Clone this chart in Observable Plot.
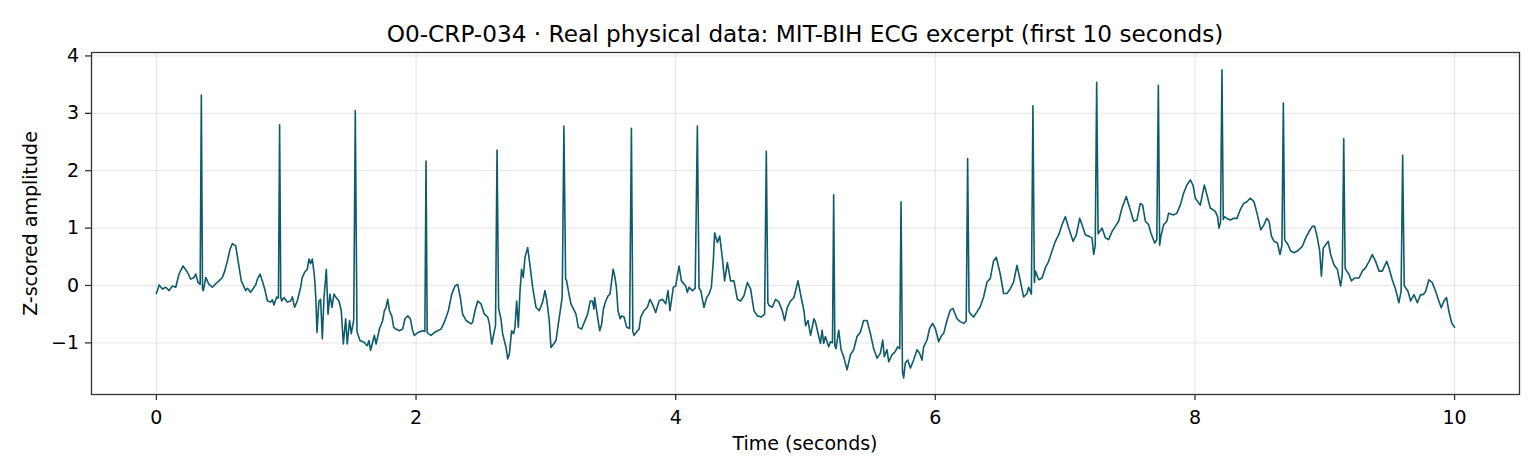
<!DOCTYPE html>
<html>
<head>
<meta charset="utf-8">
<script src="https://cdn.jsdelivr.net/npm/d3@7"></script>
<script src="https://cdn.jsdelivr.net/npm/@observablehq/plot@0.6"></script>
<style>
  body { margin: 0; background: #fff; font-family: "DejaVu Sans", sans-serif; }
  #wrap { position: relative; width: 1540px; height: 476px; overflow: hidden; }
  #wrap svg { position: absolute; left: 0; top: 0; }
  .lbl { position: absolute; line-height: 1; white-space: nowrap; color: #000; text-align: center; }
</style>
</head>
<body>
<div id="wrap">
  <div id="chart"></div>
  <div class="lbl" id="title" style="left:91px;width:1428px;top:22px;font-size:23.2px;">O0-CRP-034 · Real physical data: MIT-BIH ECG excerpt (first 10 seconds)</div>
  <div class="lbl" id="xlabel" style="left:91px;width:1428px;top:434px;font-size:19px;">Time (seconds)</div>
  <div class="lbl" id="ylabel" style="left:-119.6px;width:300px;top:213.5px;height:19px;font-size:19px;transform:rotate(-90deg);transform-origin:50% 50%;">Z-scored amplitude</div>
</div>
<script>
// ECG excerpt (time in seconds, z-scored amplitude)
const time = [
0.000,0.021,0.046,0.072,0.098,0.123,0.149,0.174,0.205,0.239,0.264,0.290,0.303,0.321,0.337,0.346,0.355,0.362,0.380,0.405,
0.431,0.457,0.482,0.508,0.526,0.547,0.567,0.585,0.611,0.629,0.654,0.688,0.701,0.726,0.752,0.765,0.778,0.798,0.816,0.834,
0.855,0.880,0.893,0.906,0.926,0.940,0.949,0.958,0.965,0.983,1.008,1.034,1.047,1.065,1.085,1.111,1.124,1.142,1.162,1.175,
1.188,1.201,1.214,1.221,1.229,1.237,1.252,1.265,1.278,1.291,1.309,1.322,1.337,1.352,1.368,1.381,1.406,1.424,1.440,1.458,
1.470,1.488,1.501,1.520,1.532,1.545,1.568,1.599,1.624,1.637,1.650,1.679,1.692,1.718,1.743,1.756,1.769,1.782,1.795,1.813,
1.828,1.846,1.872,1.897,1.915,1.936,1.956,1.974,1.987,2.013,2.051,2.068,2.077,2.086,2.095,2.115,2.141,2.167,2.192,2.218,
2.249,2.275,2.300,2.321,2.341,2.359,2.385,2.423,2.436,2.454,2.475,2.500,2.526,2.552,2.565,2.583,2.612,2.624,2.636,2.654,
2.667,2.693,2.706,2.719,2.736,2.752,2.762,2.775,2.788,2.801,2.813,2.826,2.839,2.860,2.880,2.898,2.924,2.949,2.975,2.993,
3.008,3.026,3.039,3.060,3.078,3.096,3.111,3.126,3.139,3.152,3.160,3.173,3.193,3.219,3.232,3.250,3.275,3.296,3.322,3.342,
3.358,3.371,3.376,3.397,3.415,3.430,3.443,3.461,3.479,3.494,3.507,3.518,3.530,3.543,3.556,3.572,3.584,3.602,3.623,3.645,
3.659,3.670,3.679,3.705,3.718,3.731,3.756,3.782,3.802,3.820,3.846,3.872,3.897,3.923,3.941,3.956,3.982,4.000,4.026,4.044,
4.077,4.090,4.103,4.128,4.150,4.167,4.180,4.193,4.218,4.239,4.257,4.275,4.290,4.300,4.321,4.339,4.359,4.377,4.398,4.423,
4.449,4.475,4.500,4.526,4.552,4.577,4.603,4.629,4.659,4.685,4.698,4.710,4.719,4.744,4.770,4.795,4.821,4.839,4.860,4.885,
4.911,4.942,4.967,4.988,5.001,5.019,5.039,5.065,5.076,5.094,5.115,5.128,5.140,5.153,5.179,5.192,5.208,5.217,5.226,5.235,
5.256,5.274,5.294,5.320,5.346,5.371,5.397,5.423,5.448,5.474,5.500,5.525,5.551,5.577,5.595,5.607,5.628,5.641,5.666,5.692,
5.710,5.726,5.736,5.747,5.756,5.769,5.787,5.808,5.833,5.859,5.879,5.897,5.910,5.936,5.956,5.979,6.000,6.026,6.051,6.064,
6.090,6.115,6.136,6.167,6.192,6.218,6.238,6.249,6.260,6.269,6.295,6.321,6.346,6.372,6.398,6.423,6.449,6.470,6.500,6.526,
6.552,6.577,6.603,6.629,6.649,6.680,6.706,6.719,6.740,6.752,6.763,6.771,6.797,6.822,6.848,6.873,6.899,6.925,6.950,6.976,
7.002,7.027,7.061,7.086,7.112,7.130,7.156,7.181,7.207,7.220,7.232,7.243,7.254,7.266,7.284,7.310,7.335,7.361,7.387,7.412,
7.438,7.471,7.497,7.528,7.553,7.579,7.597,7.618,7.643,7.661,7.690,7.706,7.718,7.728,7.738,7.759,7.784,7.797,7.836,7.861,
7.887,7.913,7.938,7.964,7.985,8.003,8.041,8.072,8.092,8.118,8.157,8.174,8.185,8.197,8.208,8.218,8.226,8.246,8.272,8.298,
8.323,8.349,8.375,8.400,8.426,8.455,8.481,8.507,8.532,8.553,8.571,8.589,8.609,8.635,8.655,8.670,8.681,8.691,8.699,8.717,
8.737,8.763,8.789,8.827,8.853,8.879,8.904,8.922,8.943,8.961,8.974,8.989,9.007,9.027,9.045,9.071,9.097,9.122,9.135,9.146,
9.157,9.169,9.187,9.205,9.230,9.264,9.289,9.315,9.341,9.366,9.392,9.418,9.443,9.477,9.494,9.520,9.546,9.571,9.588,9.600,
9.612,9.623,9.641,9.661,9.687,9.713,9.738,9.759,9.777,9.802,9.828,9.854,9.874,9.897,9.918,9.938,9.956,9.977,10.000
];
const amplitude = [
-0.14,0.01,-0.06,-0.03,-0.09,-0.01,-0.03,0.20,0.34,0.23,0.11,0.14,0.20,0.05,0.02,3.32,-0.05,-0.09,0.14,0.02,
-0.03,0.03,0.08,0.14,0.25,0.43,0.63,0.73,0.69,0.43,0.08,-0.09,-0.05,-0.12,-0.03,0.01,0.11,0.20,0.08,-0.06,
-0.27,-0.29,-0.25,-0.34,-0.20,-0.22,2.80,-0.20,-0.27,-0.21,-0.29,-0.27,-0.20,-0.38,-0.27,-0.03,0.14,0.23,0.28,0.46,
0.38,0.46,0.23,0.05,-0.27,-0.82,-0.27,-0.24,-0.93,-0.21,0.28,-0.50,-0.15,-0.38,-0.15,-0.20,-0.27,-0.44,-1.02,-0.58,
-1.02,-0.61,-0.84,-0.60,3.05,-0.80,-0.96,-0.99,-1.05,-0.96,-1.13,-0.87,-1.02,-0.76,-0.61,-0.44,-0.38,-0.24,-0.44,-0.53,
-0.73,-0.76,-0.79,-0.76,-0.58,-0.53,-0.58,-0.79,-0.87,-0.82,-0.79,-0.80,2.17,-0.82,-0.84,-0.87,-0.82,-0.79,-0.76,-0.64,
-0.44,-0.15,-0.01,0.02,-0.21,-0.50,-0.61,-0.67,-0.64,-0.44,-0.27,-0.32,-0.50,-0.55,-0.67,-1.02,-0.70,2.36,-0.40,-0.58,
-0.84,-1.08,-1.28,-1.19,-0.79,-0.84,-0.73,-0.27,-0.73,-0.09,0.28,0.14,0.49,0.66,0.31,-0.03,-0.38,-0.44,-0.29,-0.09,
-0.27,-0.61,-1.08,-1.02,-0.96,-0.67,-0.44,-0.20,2.78,0.12,0.08,-0.09,-0.32,-0.44,-0.50,-0.73,-0.76,-0.64,-0.50,-0.27,
-0.27,-0.41,-0.21,-0.53,-0.79,-0.67,-0.41,-0.27,-0.18,-0.15,0.08,0.28,0.17,-0.03,-0.44,-0.58,-0.53,-0.55,-0.73,-0.75,
2.74,-0.80,-0.87,-0.79,-0.76,-0.55,-0.44,-0.38,-0.24,-0.32,-0.47,-0.27,-0.24,-0.32,-0.09,-0.44,-0.03,-0.01,0.34,0.08,
-0.01,-0.12,-0.03,-0.09,-0.05,2.78,-0.05,-0.09,-0.38,-0.21,-0.15,-0.03,0.43,0.92,0.75,0.86,0.49,0.08,0.40,0.08,
0.08,-0.24,-0.27,-0.18,0.05,-0.06,-0.44,-0.53,-0.55,-0.50,2.34,-0.30,-0.35,-0.38,-0.24,-0.29,-0.44,-0.61,-0.38,-0.27,
-0.21,0.08,-0.21,-0.44,-0.70,-0.61,-0.87,-0.58,-0.63,-0.81,-1.01,-0.78,-1.01,-0.89,-1.07,-0.98,-1.00,1.58,-1.05,-1.10,
-0.78,-1.12,-1.24,-1.47,-1.21,-1.12,-0.89,-0.81,-0.61,-0.61,-0.84,-1.10,-1.27,-1.18,-0.95,-1.24,-1.12,-1.33,-1.21,-1.15,
-1.07,-1.10,1.46,-1.50,-1.61,-1.35,-1.30,-1.44,-1.30,-1.12,-1.18,-1.30,-1.07,-0.95,-0.75,-0.66,-0.75,-0.98,-0.86,-0.84,
-0.61,-0.43,-0.40,-0.58,-0.63,-0.66,-0.62,2.21,-0.45,-0.49,-0.55,-0.46,-0.37,-0.20,0.06,0.12,0.43,0.49,0.20,-0.14,
-0.14,-0.06,0.06,0.35,0.14,-0.20,-0.14,-0.03,-0.15,3.13,0.05,0.25,0.10,0.13,0.31,0.42,0.60,0.77,0.88,1.06,
1.20,1.00,0.77,0.88,1.17,1.06,0.88,0.86,0.83,0.54,0.70,3.54,0.90,0.94,1.00,0.83,0.80,0.94,1.03,1.12,
1.35,1.55,1.35,1.12,1.14,1.43,1.40,1.12,1.06,0.91,0.74,0.80,3.49,0.70,0.86,1.06,1.12,1.26,1.23,1.26,
1.40,1.61,1.75,1.84,1.75,1.52,1.40,1.75,1.58,1.35,1.29,1.20,1.00,1.10,3.76,1.15,1.20,1.17,1.14,1.17,
1.17,1.32,1.43,1.46,1.52,1.46,1.23,0.97,1.06,1.17,1.12,0.86,0.77,0.74,0.54,0.70,3.18,0.80,0.77,0.71,
0.60,0.57,0.60,0.68,0.83,0.94,1.03,1.03,0.83,0.60,0.16,0.65,0.71,0.77,0.54,0.36,0.28,-0.01,0.20,2.56,
0.30,0.25,0.19,0.08,0.13,0.13,0.25,0.31,0.42,0.54,0.42,0.25,0.25,0.42,0.31,0.10,-0.07,-0.30,-0.10,2.27,
0.00,-0.04,-0.10,-0.27,-0.16,-0.30,-0.16,-0.16,-0.10,0.10,0.05,-0.10,-0.24,-0.39,-0.27,-0.21,-0.45,-0.65,-0.73
];
const xTicks = [0, 2, 4, 6, 8, 10];
const yTicks = [-1, 0, 1, 2, 3, 4];
const xDomain = [-0.5, 10.5];
const yDomain = [-1.9, 4.06];

const rows = time.map((t, i) => ({t, v: amplitude[i]}));
const intFormat = d3.format("d");

const chart = Plot.plot({
  width: 1540,
  height: 476,
  marginTop: 52,
  marginBottom: 82,
  marginLeft: 91,
  marginRight: 21,
  style: {fontFamily: '"DejaVu Sans", sans-serif', fontSize: "19px", background: "white", color: "#000"},
  x: {domain: xDomain},
  y: {domain: yDomain},
  marks: [
    Plot.gridX(xTicks, {stroke: "#000", strokeOpacity: 0.09, strokeWidth: 1.2}),
    Plot.gridY(yTicks, {stroke: "#000", strokeOpacity: 0.09, strokeWidth: 1.2}),
    Plot.line(rows, {x: "t", y: "v", stroke: "#0e5b6b", strokeWidth: 1.6}),
    Plot.frame({stroke: "#333", strokeWidth: 1.3}),
    Plot.axisX(xTicks, {tickSize: 6, tickPadding: 10.4, label: null, tickFormat: intFormat, stroke: "#333", fill: "#000", strokeWidth: 1.3}),
    Plot.axisY(yTicks, {tickSize: 6, tickPadding: 6.5, label: null, tickFormat: intFormat, stroke: "#333", fill: "#000", strokeWidth: 1.3})
  ]
});
document.getElementById("chart").appendChild(chart);
</script>
</body>
</html>
